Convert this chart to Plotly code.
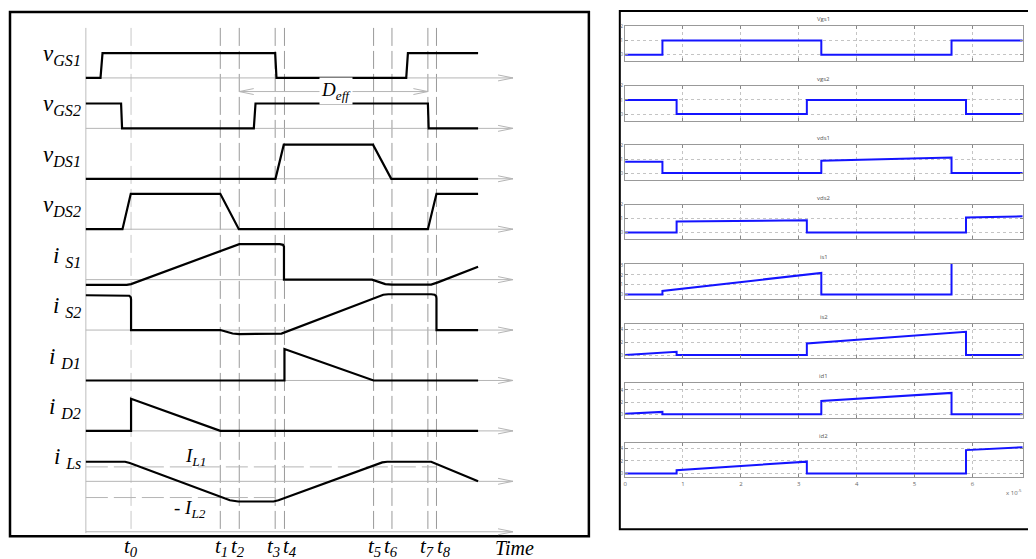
import plotly.graph_objects as go

# ================= LEFT PANEL: idealised waveforms =================
# time axis in arbitrary units (0 = start of the drawn waveforms)
t_marks = [45.3, 134.7, 153.7, 189.7, 199.0, 288.3, 306.7, 342.7, 351.3]
t_names = ["0", "1", "2", "3", "4", "5", "6", "7", "8"]
t_end = 393.0
t_arrow = 428.0

row_labels = ["v<sub>GS1</sub>", "v<sub>GS2</sub>", "v<sub>DS1</sub>", "v<sub>DS2</sub>",
              "i <sub>S1</sub>", "i <sub>S2</sub>", "i <sub>D1</sub>", "i <sub>D2</sub>",
              "i <sub>Ls</sub>"]

vgs1_t = [0, 14.7, 16.7, 189.7, 191.0, 321.0, 322.7, 393]
vgs1_y = [0, 0, 25, 25, 0, 0, 25, 25]

vgs2_t = [0, 35.3, 36.3, 168.3, 170.0, 342.7, 343.5, 393]
vgs2_y = [25, 25, 0, 0, 25, 25, 0, 0]

vds1_t = [0, 190.0, 198.3, 287.7, 306.0, 393]
vds1_y = [0, 0, 34.3, 34.3, 0, 0]

vds2_t = [0, 36.7, 45.0, 134.7, 153.3, 342.7, 351.3, 393]
vds2_y = [0, 0, 35.6, 35.6, 0, 0, 35.6, 35.6]

is1_t = [0, 41, 45.3, 48, 148, 153.7, 194.3, 197.5, 198.5, 198.5, 286.7, 292, 300, 306.7, 346, 352, 393]
is1_y = [-5.3, -5.3, -4.5, -3.5, 33.5, 35.7, 35.7, 35, 33, 0, 0, -2, -4.5, -5, -5, -3, 13]

is2_t = [0, 41, 43.5, 45, 45.3, 45.3, 134.7, 140, 147, 153.7, 192, 196, 298, 303, 346, 349.5, 351, 351.3, 351.3, 393]
is2_y = [35, 35, 34.5, 33, 31, 0, 0, -1.5, -3.5, -4, -4, -3.5, 35.5, 36, 36, 35.5, 34, 32, 0, 0]

id1_t = [0, 199, 199, 288.3, 393]
id1_y = [0, 0, 31.7, 0, 0]

id2_t = [0, 45.3, 45.3, 134.7, 393]
id2_y = [0, 0, 32.3, 0, 0]

ils_t = [0, 39.3, 44, 144.3, 152.7, 188, 193, 297, 302, 346, 393]
ils_y = [19.7, 19.7, 18.5, -19, -20.3, -20.3, -19, 19, 19.7, 19.7, 0]

waves = [(vgs1_t, vgs1_y), (vgs2_t, vgs2_y), (vds1_t, vds1_y), (vds2_t, vds2_y),
         (is1_t, is1_y), (is2_t, is2_y), (id1_t, id1_y), (id2_t, id2_y), (ils_t, ils_y)]

# ================= RIGHT PANEL: simulated waveforms (time x 1e-5 s) =================
sim_titles = ["Vgs1", "vgs2", "vds1", "vds2", "is1", "is2", "id1", "id2"]
sim_xticks = [0, 1, 2, 3, 4, 5, 6]

ta = [0, 0.645, 0.645, 3.39, 3.39, 5.64, 5.64, 6.87]
tb = [0, 0.89, 0.89, 3.14, 3.14, 5.89, 5.89, 6.87]

vgs1_sim = [0, 0, 1, 1, 0, 0, 1, 1]
vgs2_sim = [1, 1, 0, 0, 1, 1, 0, 0]
vds1_sim = [0.81, 0.81, 0, 0, 0.89, 1.12, 0, 0]
vds2_sim = [0, 0, 0.79, 0.88, 0, 0, 1.07, 1.16]
is1_sim = [0, 0, 0.36, 2.2, 0, 0, 3.6, 3.6]
is2_sim = [0.05, 0.57, 0.05, 0.05, 1.85, 3.65, 0.05, 0.05]
id1_sim = [0.1, 0.42, 0.05, 0.05, 2.2, 3.5, 0.05, 0.05]
id2_sim = [0, 0, 0.52, 1.87, 0, 0, 3.7, 4.17]

sim_series = [(ta, vgs1_sim), (tb, vgs2_sim), (ta, vds1_sim), (tb, vds2_sim),
              (ta, is1_sim), (tb, is2_sim), (ta, id1_sim), (tb, id2_sim)]
sim_yranges = [[-0.45, 2.0], [-0.45, 2.0], [-0.5, 2.0], [-0.5, 2.0],
               [-0.46, 3.1], [-0.46, 4.92], [-0.55, 5.1], [-0.62, 4.9]]
sim_yticks = [[0, 1, 2], [0, 1, 2], [0, 1, 2], [0, 1, 2],
              [0, 1, 2, 3], [0, 2, 4], [0, 2, 4], [0, 2, 4]]

# ================= layout geometry =================
OFF = 8                     # page body margin of the browser
W, H = 1036 - OFF, 559 - OFF
X0PX = 84.0 - OFF           # pixel of time origin (left panel)
Y0PX = 75.3 - OFF           # pixel of first baseline
PITCH = 50.7
SERIF = "Liberation Serif"

def px(v):
    return (v - OFF) / W

def py(v):
    return 1 - (v - OFF) / H

fig = go.Figure()

def lt(x, y, color="#b5b5b5", width=1, dash="solid"):
    fig.add_trace(go.Scatter(x=x, y=y, mode="lines", xaxis="x", yaxis="y",
                             line=dict(color=color, width=width, dash=dash),
                             hoverinfo="skip", showlegend=False))

def base(i):
    return -i * PITCH

top_guide = 75.3 - 25.0
bot_guide = 75.3 - 533.0

# vertical guide at origin
lt([0, 0], [top_guide, bot_guide], color="#bdbdbd")
# vertical dashed guides
for k, tm in enumerate(t_marks):
    col = "#c8c8c8" if k == 0 else "#9a9a9a"
    lt([tm, tm], [top_guide, bot_guide], color=col, dash="18px,5px")

# baselines with open arrow heads (rows + time axis)
for i in range(10):
    b = base(i)
    lt([0, t_arrow], [b, b])
    lt([t_arrow - 15, t_arrow, t_arrow - 15], [b + 3, b, b - 3])

# extra level lines in i_Ls row
bl = base(8)
lt([0, t_marks[8]], [bl + 14.5, bl + 14.5], dash="22px,6px")
lt([0, t_marks[3]], [bl - 16.3, bl - 16.3], dash="22px,6px")

# D_eff arrow
yd = base(0) - 13.7
lt([t_marks[2], t_marks[7]], [yd, yd])
lt([t_marks[2] + 14.5, t_marks[2], t_marks[2] + 14.5], [yd + 3, yd, yd - 3])
lt([t_marks[7] - 14.5, t_marks[7], t_marks[7] - 14.5], [yd + 3, yd, yd - 3])

# waveforms
for i, (tt, yy) in enumerate(waves):
    b = base(i)
    fig.add_trace(go.Scatter(x=tt, y=[b + v for v in yy], mode="lines", xaxis="x", yaxis="y",
                             line=dict(color="black", width=2.2),
                             hoverinfo="skip", showlegend=False))

annots = []
# row labels
for i, lab in enumerate(row_labels):
    annots.append(dict(x=-3, y=base(i) + 23, xref="x", yref="y", text="<i>" + lab + "</i>",
                       showarrow=False, xanchor="right", yanchor="middle",
                       font=dict(family=SERIF, size=23, color="black")))
# time labels
t_label_dx = [0, 1.5, -1.5, -1.5, 6, 1, -0.5, -0.5, 7.5]
for tm, nm, dx in zip(t_marks, t_names, t_label_dx):
    annots.append(dict(x=tm + dx, y=base(9) - 15, xref="x", yref="y",
                       text="<i>t<sub>" + nm + "</sub></i>", showarrow=False,
                       xanchor="center", yanchor="middle",
                       font=dict(family=SERIF, size=21, color="black")))
annots.append(dict(x=t_arrow + 1, y=base(9) - 16, xref="x", yref="y", text="<i>Time</i>",
                   showarrow=False, xanchor="center", yanchor="middle",
                   font=dict(family=SERIF, size=20, color="black")))
annots.append(dict(x=(t_marks[2] + t_marks[7]) / 2 + 2, y=yd + 1, xref="x", yref="y",
                   text="<i>D<sub>eff</sub></i>", showarrow=False, bgcolor="white",
                   xanchor="center", yanchor="middle",
                   font=dict(family=SERIF, size=19, color="black")))
annots.append(dict(x=110, y=bl + 24, xref="x", yref="y", text="<i>I<sub>L1</sub></i>",
                   showarrow=False, xanchor="center", yanchor="middle",
                   font=dict(family=SERIF, size=19, color="black")))
annots.append(dict(x=104, y=bl - 28, xref="x", yref="y", text="<i>- I<sub>L2</sub></i>",
                   showarrow=False, xanchor="center", yanchor="middle",
                   font=dict(family=SERIF, size=19, color="black")))

layout = dict(
    width=W, height=H, autosize=False,
    margin=dict(l=0, r=0, t=0, b=0),
    paper_bgcolor="white", plot_bgcolor="rgba(0,0,0,0)",
    showlegend=False,
    xaxis=dict(domain=[0, 1], range=[-X0PX, W - X0PX], visible=False, fixedrange=True),
    yaxis=dict(domain=[0, 1], range=[Y0PX - H, Y0PX], visible=False, fixedrange=True),
)

# right subplots
PX_L, PX_R = 624.3, 1022.7
for k in range(8):
    top = 23.3 + k * 59.8
    bot = top + 35.0
    xa = "xaxis%d" % (k + 2)
    ya = "yaxis%d" % (k + 2)
    layout[xa] = dict(domain=[px(PX_L), px(PX_R)], anchor="y%d" % (k + 2),
                      range=[0, 6.87], tickvals=sim_xticks,
                      showticklabels=(k == 7), ticks="inside", ticklen=3,
                      tickcolor="#888", showline=True, linecolor="#999", linewidth=1,
                      mirror="ticks", showgrid=True, gridcolor="#c4c4c4", griddash="dot",
                      gridwidth=1, zeroline=False, tickfont=dict(size=6, color="#666"),
                      fixedrange=True)
    layout[ya] = dict(domain=[py(bot), py(top)], anchor="x%d" % (k + 2),
                      range=sim_yranges[k], tickvals=sim_yticks[k],
                      ticks="inside", ticklen=3, tickcolor="#888", showline=True,
                      linecolor="#999", linewidth=1, mirror="ticks", showgrid=True,
                      gridcolor="#c4c4c4", griddash="dot", gridwidth=1, zeroline=False,
                      tickfont=dict(size=5, color="#666"), ticklabelstandoff=0,
                      fixedrange=True)
    tt, yy = sim_series[k]
    fig.add_trace(go.Scatter(x=tt, y=yy, mode="lines", xaxis="x%d" % (k + 2),
                             yaxis="y%d" % (k + 2), line=dict(color="#1414ff", width=2),
                             hoverinfo="skip", showlegend=False))
    annots.append(dict(x=(px(PX_L) + px(PX_R)) / 2, y=py(top - 7), xref="paper", yref="paper",
                       text=sim_titles[k], showarrow=False, xanchor="center",
                       yanchor="middle", font=dict(size=6, color="#555")))

annots.append(dict(x=px(1014), y=py(492), xref="paper", yref="paper",
                   text="x 10<sup>-5</sup>", showarrow=False, xanchor="center",
                   yanchor="middle", font=dict(size=6, color="#666")))

shapes = [
    dict(type="rect", xref="paper", yref="paper", x0=px(8), x1=px(588),
         y0=py(536), y1=py(9), line=dict(color="black", width=2.5), layer="below"),
    dict(type="rect", xref="paper", yref="paper", x0=px(619), x1=px(1045),
         y0=py(529), y1=py(8), line=dict(color="black", width=2), layer="below"),
]

layout["annotations"] = annots
layout["shapes"] = shapes
fig.update_layout(**layout)
fig.write_html("out.html")
